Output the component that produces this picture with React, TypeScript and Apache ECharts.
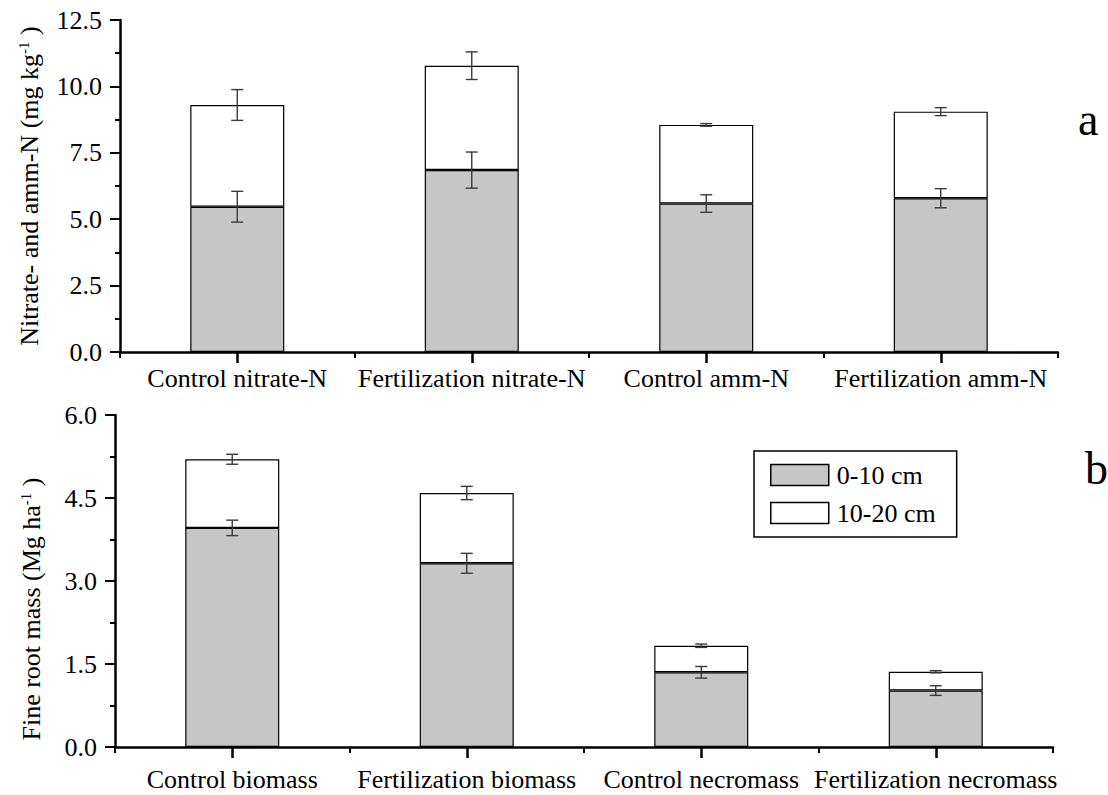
import React, { useEffect, useRef } from "react";
import * as echarts from "echarts";

// ---- data ----
const categoriesA = ["Control nitrate-N", "Fertilization nitrate-N", "Control amm-N", "Fertilization amm-N"];
const categoriesB = ["Control biomass", "Fertilization biomass", "Control necromass", "Fertilization necromass"];
const layerNames = ["0-10 cm", "10-20 cm"];

// panel a: nitrate- and amm-N (mg kg-1)
const lowerA = [5.47, 6.85, 5.59, 5.79];
const upperA = [3.83, 3.93, 2.96, 3.26];
const lowerErrA = [0.58, 0.68, 0.33, 0.36];
const upperErrA = [0.58, 0.52, 0.05, 0.15];

// panel b: fine root mass (Mg ha-1)
const lowerB = [3.96, 3.32, 1.35, 1.02];
const upperB = [1.24, 1.27, 0.48, 0.34];
const lowerErrB = [0.14, 0.18, 0.105, 0.087];
const upperErrB = [0.09, 0.12, 0.03, 0.02];

const yAxisA = { min: 0, max: 12.5, interval: 2.5 };
const yAxisB = { min: 0, max: 6.0, interval: 1.5 };
const panelLabels = ["a", "b"];

const FONT = "Liberation Serif";
const GRAY = "#c6c6c6";
const FS = 26;

export default function App() {
  const ref = useRef<HTMLDivElement>(null);

  useEffect(() => {
    if (!ref.current) return;
    const chart = echarts.init(ref.current, undefined, { renderer: "svg" });

    const errSeries = (xIdx: number, yIdx: number, base: number[], err: number[]) => ({
      type: "custom",
      xAxisIndex: xIdx,
      yAxisIndex: yIdx,
      z: 10,
      silent: true,
      encode: { x: 0, y: 1 },
      data: base.map((v, i) => [i, v, err[i]]),
      renderItem: (params: any, api: any) => {
        const x = api.value(0);
        const y = api.value(1);
        const e = api.value(2);
        const hi = api.coord([x, y + e]);
        const lo = api.coord([x, y - e]);
        const w = 6;
        const st = { stroke: "#3a3a3a", lineWidth: 1.4 };
        return {
          type: "group",
          children: [
            { type: "line", shape: { x1: hi[0], y1: hi[1], x2: lo[0], y2: lo[1] }, style: st },
            { type: "line", shape: { x1: hi[0] - w, y1: hi[1], x2: hi[0] + w, y2: hi[1] }, style: st },
            { type: "line", shape: { x1: lo[0] - w, y1: lo[1], x2: lo[0] + w, y2: lo[1] }, style: st },
          ],
        };
      },
    });

    const barSeries = (name: string, xIdx: number, yIdx: number, data: number[], color: string, stack: string) => ({
      type: "bar",
      name,
      xAxisIndex: xIdx,
      yAxisIndex: yIdx,
      stack,
      barWidth: 94,
      data,
      itemStyle: { color, borderColor: "#000", borderWidth: 1.2 },
      silent: true,
    });

    const cum = (a: number[], b: number[]) => a.map((v, i) => v + b[i]);

    const catAxis = (gridIndex: number, data: string[], labelMargin: number) => [
      {
        type: "category",
        gridIndex,
        position: "bottom",
        data,
        boundaryGap: true,
        axisLine: { lineStyle: { color: "#000", width: 2.5 } },
        axisTick: { show: true, length: 6, interval: 0, lineStyle: { color: "#000", width: 2 } },
        axisLabel: { interval: 0, margin: labelMargin, fontSize: FS, fontFamily: FONT, color: "#000" },
      },
      {
        type: "category",
        gridIndex,
        position: "bottom",
        data,
        boundaryGap: true,
        axisLine: { show: false },
        axisTick: { show: true, alignWithLabel: true, length: 11, interval: 0, lineStyle: { color: "#000", width: 2.5 } },
        axisLabel: { show: false },
      },
    ];

    const valAxis = (gridIndex: number, cfg: any, name: string, nameGap: number, shift: number) => ({
      type: "value",
      gridIndex,
      min: cfg.min,
      max: cfg.max,
      interval: cfg.interval,
      name,
      nameLocation: "middle",
      nameRotate: 90,
      nameGap,
      nameTextStyle: {
        fontSize: 26,
        fontFamily: FONT,
        color: "#000",
        padding: [0, shift, 0, 0],
        rich: {
          sup: { fontSize: 15, fontFamily: FONT, color: "#000", verticalAlign: "top", lineHeight: 15, padding: [0, 0, 11, 0] },
        },
      },
      axisLine: { show: true, lineStyle: { color: "#000", width: 2.5 } },
      axisTick: { show: true, length: 10, lineStyle: { color: "#000", width: 2 } },
      minorTick: { show: true, splitNumber: 2, length: 5, lineStyle: { color: "#000", width: 2 } },
      splitLine: { show: false },
      axisLabel: {
        margin: 18,
        fontSize: FS,
        fontFamily: FONT,
        color: "#000",
        formatter: (v: number) => v.toFixed(1),
      },
    });

    const option: any = {
      animation: false,
      backgroundColor: "#fff",
      textStyle: { fontFamily: FONT },
      grid: [
        { left: 120, right: 50, top: 20, height: 332 },
        { left: 115, right: 55, top: 415, height: 332 },
      ],
      xAxis: [...catAxis(0, categoriesA, 13), ...catAxis(1, categoriesB, 19)],
      yAxis: [
        valAxis(0, yAxisA, "Nitrate- and amm-N (mg kg{sup|-1} )", 78, 0),
        valAxis(1, yAxisB, "Fine root mass (Mg ha{sup|-1} )", 71, 56),
      ],
      legend: {
        orient: "vertical",
        left: 754,
        top: 451,
        padding: [11, 21, 11, 16],
        itemWidth: 58,
        itemHeight: 21,
        itemGap: 12,
        borderColor: "#000",
        borderWidth: 1.5,
        selectedMode: false,
        textStyle: { fontSize: FS, fontFamily: FONT, color: "#000", lineHeight: 21, padding: [0, 0, 0, 3] },
        data: [
          { name: layerNames[0], icon: "rect", itemStyle: { color: GRAY, borderColor: "#000", borderWidth: 1.5 } },
          { name: layerNames[1], icon: "rect", itemStyle: { color: "#fff", borderColor: "#000", borderWidth: 1.5 } },
        ],
      },
      graphic: [
        { type: "text", x: 1078, y: 119, style: { text: panelLabels[0], fontSize: 46, fontFamily: FONT, fill: "#000", verticalAlign: "middle" } },
        { type: "text", x: 1085, y: 468, style: { text: panelLabels[1], fontSize: 46, fontFamily: FONT, fill: "#000", verticalAlign: "middle" } },
      ],
      series: [
        barSeries(layerNames[0], 0, 0, lowerA, GRAY, "a"),
        barSeries(layerNames[1], 0, 0, upperA, "#fff", "a"),
        errSeries(0, 0, lowerA, lowerErrA),
        errSeries(0, 0, cum(lowerA, upperA), upperErrA),
        barSeries(layerNames[0], 2, 1, lowerB, GRAY, "b"),
        barSeries(layerNames[1], 2, 1, upperB, "#fff", "b"),
        errSeries(2, 1, lowerB, lowerErrB),
        errSeries(2, 1, cum(lowerB, upperB), upperErrB),
      ],
    };

    chart.setOption(option);
    return () => chart.dispose();
  }, []);

  return (
    <div
      ref={ref}
      style={{ position: "fixed", left: 0, top: 0, width: 1108, height: 795, background: "#fff" }}
    />
  );
}
